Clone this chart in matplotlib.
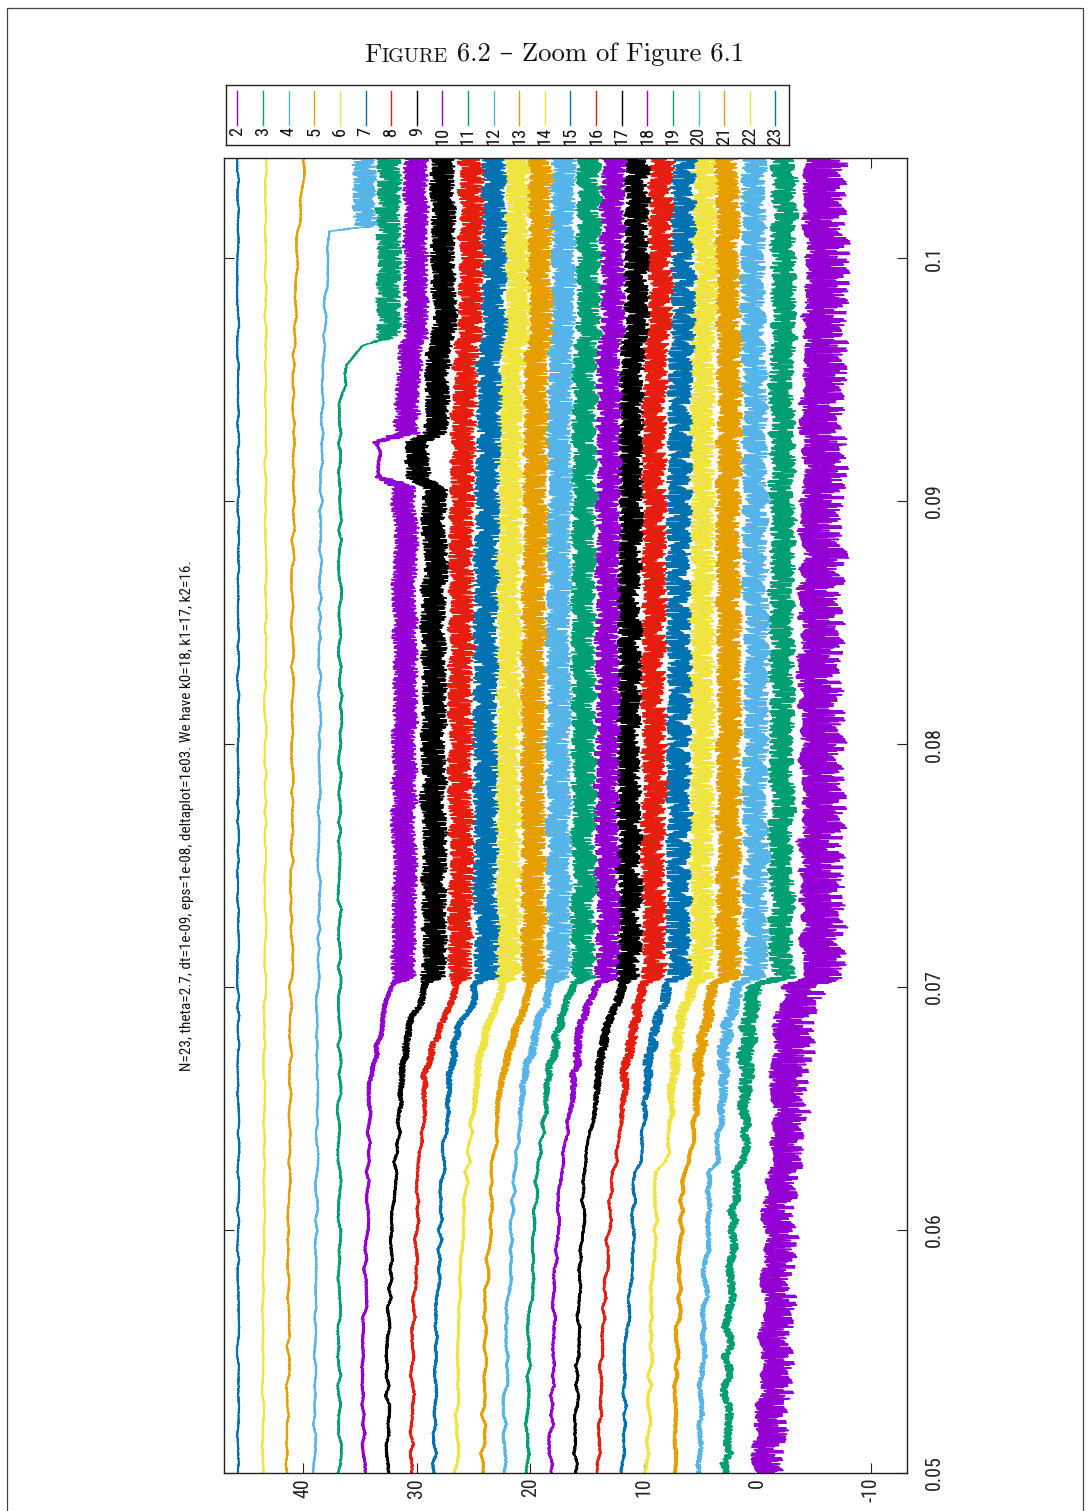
import numpy as np
import matplotlib
matplotlib.use("Agg")
import matplotlib.pyplot as plt
from matplotlib import font_manager as fm
from matplotlib.patches import Rectangle

W, H = 1089, 1511

# series k = 2..23, gnuplot default colour cycle
line_ids = list(range(2, 24))
palette = ['#9400d3', '#009e73', '#56b4e9', '#e69f00',
           '#f0e442', '#0072b2', '#e51e10', '#000000']

# time nodes and the centre value of every line (k=2..23) at each node
node_t = [0.0500, 0.0553, 0.0624, 0.0628, 0.0664, 0.0684, 0.0693, 0.0701, 0.0704,
          0.0850, 0.0940, 0.0956, 0.0964, 0.0967, 0.1011, 0.1013, 0.1042]
lv_0500 = [-0.4, 2.75, 5.1, 7.3, 9.7, 11.9, 14.0, 16.0, 18.2, 20.3, 22.3, 24.2, 26.5, 28.4, 30.4, 32.6, 34.7, 36.8, 39.0, 41.4, 43.5, 45.7]
lv_0553 = [-1.0, 2.6, 4.8, 7.0, 9.4, 11.5, 13.7, 15.8, 18.0, 20.1, 22.1, 24.0, 26.3, 28.3, 30.3, 32.5, 34.6, 36.8, 38.9, 41.3, 43.5, 45.7]
lv_0624 = [-1.5, 2.0, 4.2, 6.6, 8.8, 10.7, 12.8, 15.2, 17.3, 19.4, 21.4, 23.4, 25.6, 27.7, 29.8, 31.9, 34.3, 36.8, 38.8, 41.2, 43.4, 45.7]
lv_0628 = [-2.1, 1.1, 3.5, 5.8, 8.0, 10.2, 12.4, 15.0, 17.1, 19.2, 21.2, 23.2, 25.4, 27.6, 29.7, 31.8, 34.2, 36.8, 38.8, 41.2, 43.4, 45.7]
lv_0664 = [-2.3, 1.0, 3.0, 5.3, 7.3, 9.7, 11.7, 14.1, 16.1, 18.3, 20.4, 22.4, 24.8, 27.2, 29.2, 31.2, 34.1, 36.8, 38.7, 41.1, 43.4, 45.7]
lv_0684 = [-2.6, 0.7, 2.6, 4.7, 6.8, 9.0, 11.0, 13.2, 15.5, 17.5, 19.5, 21.4, 23.9, 26.2, 28.0, 30.8, 33.0, 36.8, 38.7, 41.1, 43.4, 45.7]
lv_0693 = [-2.9, 0.4, 2.2, 4.1, 6.2, 8.2, 10.4, 12.3, 14.8, 16.7, 18.6, 20.3, 23.0, 25.2, 26.9, 29.6, 32.6, 36.8, 38.7, 41.1, 43.4, 45.7]
lv_0701 = [-3.2, 0.0, 1.8, 3.8, 5.8, 7.8, 9.9, 11.9, 14.3, 16.3, 18.2, 20.0, 22.5, 24.8, 26.6, 29.2, 32.1, 36.8, 38.7, 41.1, 43.3, 45.7]
lv_0704 = [-4.8, -2.2, 0.1, 2.5, 4.9, 6.9, 9.1, 11.3, 13.2, 15.3, 17.5, 19.7, 21.9, 23.9, 26.1, 28.5, 31.2, 36.8, 38.6, 41.0, 43.3, 45.7]
lv_0850 = [-4.8, -2.2, 0.1, 2.5, 4.9, 6.9, 9.1, 11.3, 13.2, 15.3, 17.5, 19.7, 21.9, 23.9, 26.1, 28.5, 31.0, 36.7, 38.5, 40.9, 43.3, 45.7]
lv_0940 = [-4.9, -2.2, 0.2, 2.5, 4.8, 6.8, 9.0, 11.1, 13.1, 15.2, 17.4, 19.5, 21.7, 23.7, 25.9, 28.3, 30.8, 36.7, 38.3, 40.8, 43.3, 45.7]
lv_0956 = [-5.0, -2.2, 0.2, 2.5, 4.7, 6.7, 8.9, 11.0, 13.0, 15.1, 17.3, 19.4, 21.5, 23.6, 25.7, 28.1, 30.6, 36.0, 38.2, 40.8, 43.3, 45.7]
lv_0964 = [-5.0, -2.2, 0.2, 2.5, 4.7, 6.7, 8.9, 11.0, 13.0, 15.1, 17.3, 19.4, 21.5, 23.6, 25.7, 28.1, 30.6, 34.9, 38.2, 40.8, 43.3, 45.7]
lv_0967 = [-5.2, -2.3, 0.4, 2.6, 4.6, 6.5, 8.5, 10.6, 12.7, 14.8, 17.1, 19.1, 21.1, 23.2, 25.2, 27.6, 30.0, 32.5, 38.1, 40.7, 43.3, 45.7]
lv_1011 = [-5.2, -2.3, 0.4, 2.6, 4.6, 6.5, 8.5, 10.6, 12.7, 14.8, 17.1, 19.1, 21.1, 23.2, 25.2, 27.6, 30.0, 32.5, 37.8, 40.5, 43.3, 45.7]
lv_1013 = [-5.2, -2.3, 0.4, 2.6, 4.6, 6.5, 8.5, 10.6, 12.7, 14.8, 17.1, 19.1, 21.1, 23.2, 25.2, 27.6, 30.0, 32.5, 34.6, 40.4, 43.3, 45.7]
lv_1042 = [-5.2, -2.3, 0.4, 2.6, 4.6, 6.5, 8.5, 10.6, 12.7, 14.8, 17.1, 19.1, 21.1, 23.2, 25.2, 27.6, 30.0, 32.5, 34.6, 39.8, 43.2, 45.7]
level_nodes = [lv_0500, lv_0553, lv_0624, lv_0628, lv_0664, lv_0684, lv_0693, lv_0701, lv_0704,
               lv_0850, lv_0940, lv_0956, lv_0964, lv_0967, lv_1011, lv_1013, lv_1042]

# excursion of lines 18 and 17 around t=0.091
bump_t = [0.0906, 0.0910, 0.0924, 0.0928]
bump_18 = [31.0, 33.2, 33.4, 30.9]
bump_17 = [28.4, 29.9, 30.0, 28.3]

# fast jitter half-width: quiet phase, just before the band, inside the band
amp_quiet = [1.4, 0.35, 0.2, 0.15, 0.12, 0.1, 0.1, 0.1, 0.1, 0.1, 0.1, 0.1, 0.1, 0.1, 0.1, 0.1, 0.1, 0.08, 0.06, 0.06, 0.05, 0.05]
amp_pre = [1.8, 0.75, 0.55, 0.5, 0.5, 0.45, 0.45, 0.4, 0.35, 0.35, 0.35, 0.35, 0.35, 0.3, 0.3, 0.3, 0.2, 0.08, 0.06, 0.06, 0.05, 0.05]
amp_band = [1.9, 1.1, 1.1, 1.1, 1.1, 1.1, 1.1, 1.1, 1.1, 1.1, 1.1, 1.1, 1.1, 1.1, 1.1, 1.1, 1.1, 1.1, 1.05, 0.06, 0.05, 0.05]
# slow meander half-width
wiggle = [0.4, 0.3, 0.25, 0.22, 0.2, 0.2, 0.2, 0.2, 0.2, 0.2, 0.2, 0.2, 0.2, 0.2, 0.2, 0.2, 0.2, 0.18, 0.14, 0.14, 0.1, 0.1]
join_t = [0.0702] * 17 + [0.0966, 0.1012, None, None, None]

# hand-typed jitter pattern
jitter = [0.42, -0.87, 0.15, 0.93, -0.31, -0.66, 0.78, 0.04, -0.95, 0.57,
          -0.12, 0.69, -0.48, 0.88, -0.79, 0.23, 0.61, -0.35, -0.99, 0.36,
          0.81, -0.54, 0.07, -0.72, 0.96, -0.18, 0.49, -0.63, 0.29, -0.91,
          0.74, 0.11, -0.44, 0.85, -0.27, -0.76, 0.52, 0.98, -0.09, -0.58,
          0.33, -0.84, 0.67, 0.19, -0.39, 0.9, -0.69, 0.02, 0.46, -0.97,
          0.71, -0.22, 0.58, -0.51, 0.14, 0.83, -0.81, 0.38, -0.05, -0.64,
          0.94, -0.41, 0.26, -0.89, 0.63, 0.09, -0.28, 0.77, -0.71, 0.45,
          -0.16, 0.99, -0.56, 0.31, -0.83, 0.54, -0.02, 0.68, -0.93, 0.21,
          0.86, -0.37, -0.6, 0.4, -0.14, 0.73, -0.78, 0.17, 0.92, -0.47,
          0.05, -0.68, 0.59, -0.25, 0.81, -0.96, 0.35, -0.1, 0.64, -0.53,
          0.27, 0.89, -0.74, -0.2, 0.5, -0.86, 0.12, 0.76, -0.43, 0.97,
          -0.33, -0.62, 0.44, -0.07, 0.7, -0.92, 0.24, 0.55, -0.49, 0.84,
          -0.19, -0.8, 0.37, 0.01, -0.67, 0.91, -0.3, 0.62, -0.57, 0.16,
          -0.98, 0.79, -0.11, 0.48, -0.75, 0.32, 0.87, -0.45, -0.03, 0.66,
          -0.85, 0.2, -0.59, 0.95, -0.24, 0.53, -0.7, 0.08, -0.34, 0.72, -0.15]

val_ticks = [40, 30, 20, 10, 0, -10]
time_ticks = [0.05, 0.06, 0.07, 0.08, 0.09, 0.1]
time_labels = ['0.05', '0.06', '0.07', '0.08', '0.09', '0.1']

title = "N=23, theta=2.7, dt=1e-09, eps=1e-08, deltaplot=1e03. We have k0=18, k1=17, k2=16."


def pick_narrow_font():
    # gnuplot used a narrow sans; take the narrowest sans face that is installed
    fonts = fm.fontManager.ttflist
    for want in ['Liberation Sans Narrow', 'Roboto Condensed', 'Open Sans Condensed',
                 'Noto Sans Condensed']:
        for f in fonts:
            if f.name == want and f.style == 'normal' and f.weight in (400, 'normal', 'regular'):
                return fm.FontProperties(fname=f.fname)
    for f in fonts:
        tag = (f.name + ' ' + f.fname).lower()
        if (('narrow' in tag or 'condensed' in tag) and 'bold' not in tag
                and 'italic' not in tag and 'oblique' not in tag and 'serif' not in tag
                and 'mono' not in tag and 'light' not in tag and 'cjk' not in tag):
            return fm.FontProperties(fname=f.fname)
    return fm.FontProperties(family='Roboto')


narrow = pick_narrow_font()
serif = ['cmr10', 'DejaVu Serif']
plt.rcParams['axes.unicode_minus'] = False

fig = plt.figure(figsize=(W / 100, H / 100), dpi=100)
r = fig.canvas.get_renderer()

# size the narrow font so the rotated title spans what it does in the reference
probe = fig.text(0, 0, title, fontproperties=narrow, fontsize=13)
fsize = float(np.clip(13 * 508 / probe.get_window_extent(r).width, 8, 14))
probe.remove()
tick_size = fsize * 1.3
key_size = fsize * 1.2

fig.patches.append(Rectangle((7 / W, -0.01), (1083 - 7) / W, 1.01 - 8 / H,
                             transform=fig.transFigure, fill=False,
                             edgecolor='#444444', lw=0.9))

ax = fig.add_axes([224 / W, 1 - 1473 / H, (907 - 224) / W, (1473 - 158) / H])

t = np.arange(0.05, 0.10415, 1e-5)
idx = np.arange(t.size)
J = np.array(jitter)
L = len(J)
coarse_t = np.arange(0.05, 0.1046, 4e-4)
cidx = np.arange(coarse_t.size)

for i, k in enumerate(line_ids):
    nt = list(node_t)
    nv = [lv[i] for lv in level_nodes]
    if k in (17, 18):
        bump = bump_18 if k == 18 else bump_17
        pts = sorted([p for p in zip(nt, nv) if not (bump_t[0] <= p[0] <= bump_t[-1])]
                     + list(zip(bump_t, bump)))
        nt, nv = [p[0] for p in pts], [p[1] for p in pts]
    centre = np.interp(t, nt, nv)

    q, p, b = amp_quiet[i], amp_pre[i], amp_band[i]
    j = join_t[i]
    if j is None:
        at, av = [0.05, 0.1042], [q, q]
    elif j < 0.08:
        at, av = [0.05, 0.0640, 0.0670, j - 0.0001, j + 0.0002, 0.1042], [q, q, p, p, b, b]
    else:
        at, av = [0.05, j - 0.0001, j + 0.0002, 0.1042], [q, q, b, b]
    if k == 18:
        at = at[:-1] + [0.0907, 0.0911, 0.0923, 0.0927, 0.1042]
        av = av[:-1] + [b, 0.12, 0.12, b, b]
    amp = np.interp(t, at, av)

    fast = J[(idx * (11 + 4 * i) + (idx // L) * (17 + 3 * i) + 7 * i) % L]
    slow = np.interp(t, coarse_t, J[(cidx * (5 + 2 * i) + 3 * i + 1) % L])
    if k == 2:
        fast = np.where(fast < 0, 1.5 * fast, 0.55 * fast)
    ax.plot(centre + amp * fast + wiggle[i] * slow, t, color=palette[i % 8], lw=1.15)

ax.set_xlim(46.95, -13.17)
ax.set_ylim(0.05, 0.10412)
ax.set_xticks(val_ticks)
ax.set_xticklabels([str(v) for v in val_ticks])
ax.set_yticks(time_ticks)
ax.set_yticklabels(time_labels)
ax.tick_params(direction='in', length=7, width=0.8, top=True, bottom=True,
               left=True, right=True, labelleft=False, labelright=True,
               colors='#222222')
ax.tick_params(axis='x', pad=3.5)
ax.tick_params(axis='y', pad=13)
for lab in ax.get_xticklabels():
    lab.set_fontproperties(narrow)
    lab.set_fontsize(tick_size)
    lab.set_rotation(90)
    lab.set_ha('center')
    lab.set_va('top')
for lab in ax.get_yticklabels():
    lab.set_fontproperties(narrow)
    lab.set_fontsize(tick_size)
    lab.set_rotation(90)
    lab.set_ha('left')
    lab.set_va('center')
for s in ax.spines.values():
    s.set_color('#222222')
    s.set_linewidth(1.0)

fig.text(187 / W, 1 - 816 / H, title, rotation=90, ha='center', va='center',
         fontproperties=narrow, fontsize=fsize, color='#111111')

# key, drawn the way the rotated gnuplot key looks
lax = fig.add_axes([226 / W, 1 - 145 / H, 563 / W, 60 / H])
lax.set_xlim(0, 563)
lax.set_ylim(60, 0)
lax.set_xticks([])
lax.set_yticks([])
for s in lax.spines.values():
    s.set_color('#222222')
    s.set_linewidth(1.0)
for i, k in enumerate(line_ids):
    x = 11.4 + 25.62 * i
    lax.plot([x, x], [5.7, 40], color=palette[i % 8], lw=1.0)
    lax.text(x, 41.5, str(k), rotation=90, ha='center', va='top',
             fontproperties=narrow, fontsize=key_size, color='#111111')

# caption with small caps "Figure"
pieces = [("F", 19.2), ("IGURE", 14.4), (" 6.2 \u2013 Zoom of Figure 6.1", 19.2)]
texts = [fig.text(0, 1 - 61.5 / H, s, fontsize=fs, family=serif, va='baseline',
                  ha='left', color='#111111') for s, fs in pieces]
widths = [tx.get_window_extent(r).width for tx in texts]
x0 = 554.5 - sum(widths) / 2
for tx, w in zip(texts, widths):
    tx.set_x(x0 / W)
    x0 += w

fig.savefig("out.png", dpi=100)
